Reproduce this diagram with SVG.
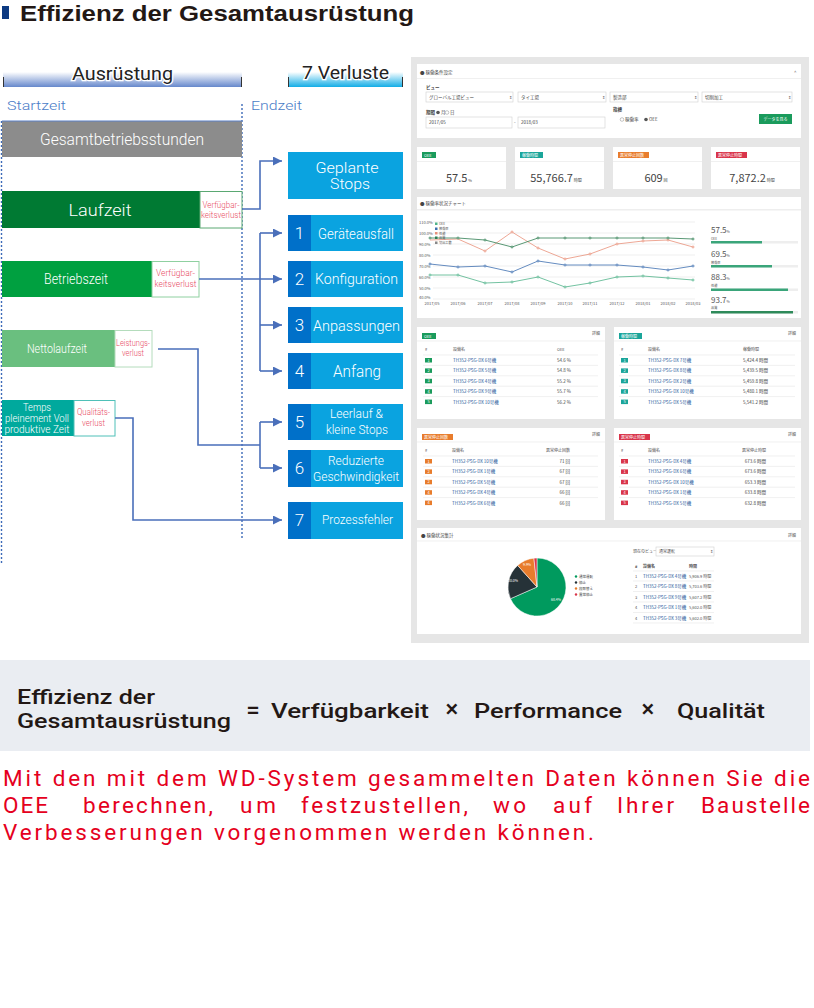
<svg xmlns="http://www.w3.org/2000/svg" width="814" height="1008" viewBox="0 0 814 1008">
<defs>
<linearGradient id="gA" x1="0" y1="0" x2="0" y2="1"><stop offset="0" stop-color="#ffffff"/><stop offset="1" stop-color="#6688cc"/></linearGradient>
<linearGradient id="gV" x1="0" y1="0" x2="0" y2="1"><stop offset="0" stop-color="#ffffff"/><stop offset="1" stop-color="#12ade6"/></linearGradient>
<marker id="ar" viewBox="0 0 9 9" refX="9" refY="4.5" markerWidth="9" markerHeight="9" markerUnits="userSpaceOnUse" orient="auto"><path d="M0,0 L9,4.5 L0,9 Z" fill="#4a6fba"/></marker>
<style>
.t{font-family:"Roboto","Liberation Sans",sans-serif;font-weight:300}
.red{fill:#e84a5f;font-size:8.5px;text-anchor:middle;font-family:"Roboto","Liberation Sans",sans-serif;font-weight:300}
.lb{fill:#0aa3e0}
.nb{fill:#0070c9}
.num{fill:#fff;font-size:17px;text-anchor:middle;font-family:"Roboto","Liberation Sans",sans-serif;font-weight:300}
.bt{fill:#fff;text-anchor:middle;font-family:"Roboto","Liberation Sans",sans-serif;font-weight:300}
.con{fill:none;stroke:#4a6fba;stroke-width:1.6}
.dot{stroke:#3e6bb8;stroke-width:1.4;stroke-dasharray:2,2}
.j{font-family:"Noto Sans CJK JP","Liberation Sans",sans-serif}
.p{fill:#fff}
.s{font-size:4.5px;fill:#444}
.sm{font-size:4px;fill:#555}
.nm{font-size:4.5px;fill:#2a5a9a}
.hl{stroke:#e6e6e6;stroke-width:0.6}
.sel{fill:#fff;stroke:#cfcfcf;stroke-width:0.6}
.val{font-size:11px;fill:#444;text-anchor:middle}
.tag{font-size:4px;fill:#fff}
.red2{fill:#e50020;font-size:22.5px;font-family:"Roboto","Liberation Sans",sans-serif;font-weight:400}
.fm{fill:#231815;font-family:"Roboto","Liberation Sans",sans-serif;font-weight:500}
</style>
</defs>
<rect width="814" height="1008" fill="#fff"/>

<g id="title">
<rect x="2" y="6" width="7" height="13" fill="#0d3a82"/>
<text x="20" y="21" font-size="22" font-weight="bold" fill="#231815" font-family="Liberation Sans, sans-serif" textLength="394" lengthAdjust="spacingAndGlyphs">Effizienz der Gesamtausrüstung</text>
</g>

<g id="header-ausruestung">
<rect x="3" y="72" width="239" height="15" fill="url(#gA)"/>
<line x1="3.5" y1="77" x2="3.5" y2="87" stroke="#333" stroke-width="1"/>
<line x1="241.5" y1="77" x2="241.5" y2="87" stroke="#333" stroke-width="1"/>
<text x="72" y="80" font-family="Roboto, Liberation Sans, sans-serif" font-size="18" fill="#222" stroke="#fff" stroke-width="2.5" paint-order="stroke" textLength="101" lengthAdjust="spacingAndGlyphs">Ausrüstung</text>
</g>
<g id="header-verluste">
<rect x="288" y="72" width="115" height="15" fill="url(#gV)"/>
<line x1="288.5" y1="77" x2="288.5" y2="87" stroke="#333" stroke-width="1"/>
<line x1="402.5" y1="77" x2="402.5" y2="87" stroke="#333" stroke-width="1"/>
<text x="302" y="79" font-family="Roboto, Liberation Sans, sans-serif" font-size="18" fill="#222" stroke="#fff" stroke-width="2.5" paint-order="stroke" textLength="87" lengthAdjust="spacingAndGlyphs">7 Verluste</text>
</g>

<g id="labels-zeit">
<text x="7" y="110" class="t" font-size="13" fill="#4a7cc7" textLength="59" lengthAdjust="spacingAndGlyphs">Startzeit</text>
<text x="251" y="110" class="t" font-size="13" fill="#4a7cc7" textLength="51" lengthAdjust="spacingAndGlyphs">Endzeit</text>
<line x1="1.5" y1="121" x2="1.5" y2="564" class="dot"/>
<line x1="242" y1="104" x2="242" y2="540" class="dot"/>
</g>

<g id="gesamt">
<rect x="2" y="121" width="240" height="36" fill="#8c8c8c"/>
<line x1="2" y1="121" x2="242" y2="121" stroke="#5b80c8" stroke-width="1"/>
<text x="122" y="145" class="bt" font-size="16" textLength="164" lengthAdjust="spacingAndGlyphs">Gesamtbetriebsstunden</text>
</g>

<g id="laufzeit">
<rect x="2" y="191" width="198" height="37" fill="#007a33"/>
<rect x="200" y="191.5" width="42" height="36.5" fill="#fff" stroke="#5aa872" stroke-width="1"/>
<text x="100" y="216" class="bt" font-size="17" textLength="63" lengthAdjust="spacingAndGlyphs">Laufzeit</text>
<text x="221" y="208" class="red" textLength="37" lengthAdjust="spacingAndGlyphs">Verfügbar-</text>
<text x="221" y="218" class="red" textLength="40" lengthAdjust="spacingAndGlyphs">keitsverlust</text>
</g>

<g id="betriebszeit">
<rect x="2" y="261" width="150" height="36" fill="#00a040"/>
<rect x="152" y="261.5" width="47" height="35.5" fill="#fff" stroke="#8fd0a0" stroke-width="1"/>
<text x="76" y="284" class="bt" font-size="14" textLength="64" lengthAdjust="spacingAndGlyphs">Betriebszeit</text>
<text x="175.5" y="276" class="red" textLength="39" lengthAdjust="spacingAndGlyphs">Verfügbar-</text>
<text x="175.5" y="287" class="red" textLength="42" lengthAdjust="spacingAndGlyphs">keitsverlust</text>
</g>

<g id="nettolaufzeit">
<rect x="2" y="330" width="113" height="37" fill="#6abf7f"/>
<rect x="115" y="330.5" width="37" height="36.5" fill="#fff" stroke="#b4dcbc" stroke-width="1"/>
<text x="57" y="353" class="bt" font-size="13" textLength="60" lengthAdjust="spacingAndGlyphs">Nettolaufzeit</text>
<text x="133" y="346" class="red" textLength="34" lengthAdjust="spacingAndGlyphs">Leistungs-</text>
<text x="133" y="356" class="red" textLength="22" lengthAdjust="spacingAndGlyphs">verlust</text>
</g>

<g id="vollproduktiv">
<rect x="2" y="400" width="72" height="36" fill="#00a99d"/>
<rect x="74" y="400.5" width="41" height="35.5" fill="#fff" stroke="#4fc0b8" stroke-width="1"/>
<text x="37" y="411" class="bt" font-size="10.5" textLength="28" lengthAdjust="spacingAndGlyphs">Temps</text>
<text x="37" y="422" class="bt" font-size="10.5" textLength="64" lengthAdjust="spacingAndGlyphs">pleinement Voll</text>
<text x="37" y="433" class="bt" font-size="10.5" textLength="65" lengthAdjust="spacingAndGlyphs">produktive Zeit</text>
<text x="93.5" y="415" class="red" textLength="33" lengthAdjust="spacingAndGlyphs">Qualitäts-</text>
<text x="93.5" y="426" class="red" textLength="23" lengthAdjust="spacingAndGlyphs">verlust</text>
</g>

<g id="geplante-stops">
<rect x="288" y="152" width="115" height="47" class="lb"/>
<text x="347" y="173" class="bt" font-size="15" textLength="63" lengthAdjust="spacingAndGlyphs">Geplante</text>
<text x="350" y="189" class="bt" font-size="15" textLength="40" lengthAdjust="spacingAndGlyphs">Stops</text>
</g>
<g id="v1"><rect x="288" y="215" width="115" height="36" class="lb"/><rect x="288" y="215" width="23" height="36" class="nb"/><text x="299.5" y="239" class="num">1</text><text x="356" y="239" class="bt" font-size="14.5" textLength="76" lengthAdjust="spacingAndGlyphs">Geräteausfall</text></g>
<g id="v2"><rect x="288" y="261" width="115" height="36" class="lb"/><rect x="288" y="261" width="23" height="36" class="nb"/><text x="299.5" y="285" class="num">2</text><text x="356.5" y="284" class="bt" font-size="14" textLength="83" lengthAdjust="spacingAndGlyphs">Konfiguration</text></g>
<g id="v3"><rect x="288" y="307" width="115" height="36" class="lb"/><rect x="288" y="307" width="23" height="36" class="nb"/><text x="299.5" y="331" class="num">3</text><text x="356.5" y="331" class="bt" font-size="15" textLength="87" lengthAdjust="spacingAndGlyphs">Anpassungen</text></g>
<g id="v4"><rect x="288" y="353" width="115" height="36" class="lb"/><rect x="288" y="353" width="23" height="36" class="nb"/><text x="299.5" y="377" class="num">4</text><text x="357" y="377" class="bt" font-size="16" textLength="48" lengthAdjust="spacingAndGlyphs">Anfang</text></g>
<g id="v5"><rect x="288" y="404" width="115" height="36" class="lb"/><rect x="288" y="404" width="23" height="36" class="nb"/><text x="299.5" y="428" class="num">5</text><text x="356.5" y="418" class="bt" font-size="12.5" textLength="53" lengthAdjust="spacingAndGlyphs">Leerlauf &amp;</text><text x="357" y="434" class="bt" font-size="12.5" textLength="62" lengthAdjust="spacingAndGlyphs">kleine Stops</text></g>
<g id="v6"><rect x="288" y="450" width="115" height="37" class="lb"/><rect x="288" y="450" width="23" height="37" class="nb"/><text x="299.5" y="474" class="num">6</text><text x="356" y="465" class="bt" font-size="12" textLength="56" lengthAdjust="spacingAndGlyphs">Reduzierte</text><text x="356" y="481" class="bt" font-size="12" textLength="86" lengthAdjust="spacingAndGlyphs">Geschwindigkeit</text></g>
<g id="v7"><rect x="288" y="502" width="115" height="37" class="lb"/><rect x="288" y="502" width="23" height="37" class="nb"/><text x="299.5" y="526" class="num">7</text><text x="357.5" y="524" class="bt" font-size="12" textLength="71" lengthAdjust="spacingAndGlyphs">Prozessfehler</text></g>

<g id="connectors">
<path class="con" d="M242,209 H260 V161 H282" marker-end="url(#ar)"/>
<path class="con" d="M199,279 H282" marker-end="url(#ar)"/>
<path class="con" d="M260,233 V371"/>
<path class="con" d="M260,233 H282" marker-end="url(#ar)"/>
<path class="con" d="M260,325 H282" marker-end="url(#ar)"/>
<path class="con" d="M260,371 H282" marker-end="url(#ar)"/>
<path class="con" d="M158,349 H198 V445 H260"/>
<path class="con" d="M260,422 V468"/>
<path class="con" d="M260,422 H282" marker-end="url(#ar)"/>
<path class="con" d="M260,468 H282" marker-end="url(#ar)"/>
<path class="con" d="M115,418 H133 V520 H282" marker-end="url(#ar)"/>
</g>

<g id="dashboard" class="j">
<rect x="411" y="57" width="398" height="586" fill="#e6e6e6"/>
<rect x="417" y="64" width="384" height="74" class="p"/>
<line x1="417" y1="78.5" x2="801" y2="78.5" class="hl"/>
<text x="420" y="73.5" class="s">● 稼働条件設定</text>
<text x="794" y="74" class="s">^</text>
<text x="426" y="89" class="s" font-weight="bold">ビュー</text>
<rect x="426" y="92" width="87" height="10" class="sel"/><text x="429" y="98.5" class="s">グローバル工場ビュー</text><text x="509" y="98.5" class="sm">⇕</text>
<rect x="518" y="92" width="88" height="10" class="sel"/><text x="521" y="98.5" class="s">タイ工場</text><text x="602" y="98.5" class="sm">⇕</text>
<rect x="610" y="92" width="88" height="10" class="sel"/><text x="613" y="98.5" class="s">製造部</text><text x="694" y="98.5" class="sm">⇕</text>
<rect x="702" y="92" width="90" height="10" class="sel"/><text x="705" y="98.5" class="s">切削加工</text><text x="788" y="98.5" class="sm">⇕</text>
<text x="426" y="114" class="s" font-weight="bold">期間</text>
<circle cx="438" cy="112.5" r="1.8" fill="#555"/><text x="441" y="114" class="s">月</text>
<circle cx="447" cy="112.5" r="1.8" fill="none" stroke="#888" stroke-width="0.5"/><text x="450" y="114" class="s">日</text>
<rect x="426" y="117" width="86" height="11" class="sel"/><text x="429" y="124" class="s">2017/05</text>
<text x="514" y="124" class="s">-</text>
<rect x="518" y="117" width="87" height="11" class="sel"/><text x="521" y="124" class="s">2018/03</text>
<text x="613" y="111" class="s" font-weight="bold">指標</text>
<circle cx="622" cy="119.5" r="1.8" fill="none" stroke="#888" stroke-width="0.5"/><text x="625" y="121" class="s">稼働率</text>
<circle cx="646" cy="119.5" r="1.8" fill="#555"/><text x="649" y="121" class="s">OEE</text>
<rect x="759" y="114" width="33" height="10" fill="#1a9b5c"/><text x="775.5" y="120.5" class="tag" text-anchor="middle" font-size="4.5">データを見る</text>

<rect x="417" y="147" width="89" height="42" class="p"/><line x1="417" y1="161.5" x2="506" y2="161.5" class="hl"/>
<rect x="422" y="152" width="14" height="6" fill="#1a9b5c"/><text x="424" y="156.5" class="tag">OEE</text>
<text x="459" y="182" class="val">57.5<tspan font-size="4"> %</tspan></text>
<rect x="515" y="147" width="89" height="42" class="p"/><line x1="515" y1="161.5" x2="604" y2="161.5" class="hl"/>
<rect x="520" y="152" width="23" height="6" fill="#1aa59a"/><text x="522" y="156.5" class="tag">稼働時間</text>
<text x="556" y="182" class="val">55,766.7<tspan font-size="4"> 時間</tspan></text>
<rect x="613" y="147" width="89" height="42" class="p"/><line x1="613" y1="161.5" x2="702" y2="161.5" class="hl"/>
<rect x="618" y="152" width="31" height="6" fill="#e87c2c"/><text x="620" y="156.5" class="tag">異常停止回数</text>
<text x="656" y="182" class="val">609<tspan font-size="4"> 回</tspan></text>
<rect x="711" y="147" width="89" height="42" class="p"/><line x1="711" y1="161.5" x2="800" y2="161.5" class="hl"/>
<rect x="716" y="152" width="31" height="6" fill="#d9344a"/><text x="718" y="156.5" class="tag">異常停止時間</text>
<text x="752" y="182" class="val">7,872.2<tspan font-size="4"> 時間</tspan></text>

<rect x="417" y="197" width="384" height="121" class="p"/>
<rect x="417" y="209" width="384" height="1.5" fill="#eeeeee"/>
<text x="420" y="205" class="s">● 稼働率状況チャート</text>
<g stroke="#dddddd" stroke-width="0.5">
<line x1="433" y1="222" x2="695" y2="222"/><line x1="433" y1="233" x2="695" y2="233"/><line x1="433" y1="244" x2="695" y2="244"/><line x1="433" y1="255" x2="695" y2="255"/><line x1="433" y1="266" x2="695" y2="266"/><line x1="433" y1="277" x2="695" y2="277"/><line x1="433" y1="288" x2="695" y2="288"/><line x1="433" y1="299" x2="695" y2="299"/>
</g>
<g class="sm" font-size="3.5">
<text x="419" y="223.5">110.0%</text><text x="419" y="234.5">100.0%</text><text x="419" y="245.5">90.0%</text><text x="419" y="256.5">80.0%</text><text x="419" y="267.5">70.0%</text><text x="419" y="278.5">60.0%</text><text x="419" y="289.5">50.0%</text><text x="419" y="299">40.0%</text>
</g>
<g class="sm" font-size="3.5" text-anchor="middle">
<text x="432" y="304.5">2017/05</text><text x="458" y="304.5">2017/06</text><text x="485" y="304.5">2017/07</text><text x="512" y="304.5">2017/08</text><text x="538" y="304.5">2017/09</text><text x="565" y="304.5">2017/10</text><text x="590" y="304.5">2017/11</text><text x="617" y="304.5">2017/12</text><text x="643" y="304.5">2018/01</text><text x="668" y="304.5">2018/02</text><text x="693" y="304.5">2018/03</text>
</g>
<g fill="#fff" stroke-width="0.8">
<polyline fill="none" stroke="#e8907a" points="430,240 458,239 485,251 512,232 538,248 565,259 590,254 617,244 643,241 668,240 693,247"/>
<polyline fill="none" stroke="#2e7d52" points="430,238 458,238 485,240 512,247 538,238 565,238 590,238 617,238 643,238 668,238 693,239"/>
<polyline fill="none" stroke="#3d6fb0" points="430,264 458,267 485,266 512,272 538,261 565,265 590,265 617,265 643,267 668,270 693,266"/>
<polyline fill="none" stroke="#4fb389" points="430,275 458,275 485,283 512,282 538,277 565,287 590,283 617,277 643,276 668,278 693,280"/>
<g stroke="#e8907a"><circle cx="485" cy="251" r="1"/><circle cx="512" cy="232" r="1"/><circle cx="538" cy="248" r="1"/><circle cx="565" cy="259" r="1"/><circle cx="590" cy="254" r="1"/><circle cx="617" cy="244" r="1"/><circle cx="643" cy="241" r="1"/><circle cx="668" cy="240" r="1"/><circle cx="693" cy="247" r="1"/></g>
<g stroke="#2e7d52"><circle cx="430" cy="238" r="1"/><circle cx="458" cy="238" r="1"/><circle cx="485" cy="240" r="1"/><circle cx="512" cy="247" r="1"/><circle cx="538" cy="238" r="1"/><circle cx="565" cy="238" r="1"/><circle cx="590" cy="238" r="1"/><circle cx="617" cy="238" r="1"/><circle cx="643" cy="238" r="1"/><circle cx="668" cy="238" r="1"/><circle cx="693" cy="239" r="1"/></g>
<g stroke="#3d6fb0"><circle cx="430" cy="264" r="1"/><circle cx="458" cy="267" r="1"/><circle cx="485" cy="266" r="1"/><circle cx="512" cy="272" r="1"/><circle cx="538" cy="261" r="1"/><circle cx="565" cy="265" r="1"/><circle cx="590" cy="265" r="1"/><circle cx="617" cy="265" r="1"/><circle cx="643" cy="267" r="1"/><circle cx="668" cy="270" r="1"/><circle cx="693" cy="266" r="1"/></g>
<g stroke="#4fb389"><circle cx="430" cy="275" r="1"/><circle cx="458" cy="275" r="1"/><circle cx="485" cy="283" r="1"/><circle cx="512" cy="282" r="1"/><circle cx="538" cy="277" r="1"/><circle cx="565" cy="287" r="1"/><circle cx="590" cy="283" r="1"/><circle cx="617" cy="277" r="1"/><circle cx="643" cy="276" r="1"/><circle cx="668" cy="278" r="1"/><circle cx="693" cy="280" r="1"/></g>
</g>
<g font-size="3.2" fill="#555">
<rect x="435" y="222.5" width="2.5" height="2.5" fill="#4fb389"/><text x="439" y="225">OEE</text>
<rect x="435" y="227.5" width="2.5" height="2.5" fill="#3d6fb0"/><text x="439" y="230">稼働率</text>
<rect x="435" y="232" width="2.5" height="2.5" fill="#e8907a"/><text x="439" y="234.5">性能</text>
<rect x="435" y="236.5" width="2.5" height="2.5" fill="#2e7d52"/><text x="439" y="239">品質</text>
<rect x="435" y="241.5" width="2.5" height="2.5" fill="#888"/><text x="439" y="244">切出工数</text>
</g>
<g fill="#555">
<text x="711" y="233" font-size="8">57.5<tspan font-size="3.5">%</tspan></text><text x="711" y="239.5" font-size="3.2">OEE</text>
<rect x="711" y="241" width="87" height="2.5" fill="#eeeeee"/><rect x="711" y="241" width="51" height="2.5" fill="#3aa57a"/>
<text x="711" y="257" font-size="8">69.5<tspan font-size="3.5">%</tspan></text><text x="711" y="263.5" font-size="3.2">稼働率</text>
<rect x="711" y="265" width="87" height="2.5" fill="#eeeeee"/><rect x="711" y="265" width="61" height="2.5" fill="#3aa57a"/>
<text x="711" y="280" font-size="8">88.3<tspan font-size="3.5">%</tspan></text><text x="711" y="286.5" font-size="3.2">性能</text>
<rect x="711" y="288.5" width="87" height="2.5" fill="#eeeeee"/><rect x="711" y="288.5" width="77" height="2.5" fill="#3aa57a"/>
<text x="711" y="302.5" font-size="8">93.7<tspan font-size="3.5">%</tspan></text><text x="711" y="309" font-size="3.2">品質</text>
<rect x="711" y="311" width="87" height="2.5" fill="#eeeeee"/><rect x="711" y="311" width="82" height="2.5" fill="#2e8a5a"/>
</g>

<g>
<rect x="417" y="327" width="188" height="92" class="p"/>
<line x1="417" y1="341" x2="605" y2="341" class="hl"/>
<rect x="422" y="333" width="14" height="6" fill="#1a9b5c"/><text x="424" y="337.5" class="tag">OEE</text>
<text x="600" y="335" class="sm" text-anchor="end">詳細</text>
<text x="425" y="351" class="sm">#</text><text x="453" y="351" class="sm">設備名</text><text x="557" y="351" class="sm">OEE</text>
<g class="hl"><line x1="423" y1="355" x2="598" y2="355"/><line x1="423" y1="365.4" x2="598" y2="365.4"/><line x1="423" y1="375.8" x2="598" y2="375.8"/><line x1="423" y1="386.2" x2="598" y2="386.2"/><line x1="423" y1="396.6" x2="598" y2="396.6"/></g>
<g fill="#1a9b5c"><rect x="425" y="358" width="7" height="4.5"/><rect x="425" y="368.4" width="7" height="4.5"/><rect x="425" y="378.8" width="7" height="4.5"/><rect x="425" y="389.2" width="7" height="4.5"/><rect x="425" y="399.6" width="7" height="4.5"/></g>
<g class="tag" font-size="3.5" text-anchor="middle"><text x="428.5" y="361.5">1</text><text x="428.5" y="371.9">2</text><text x="428.5" y="382.3">3</text><text x="428.5" y="392.7">4</text><text x="428.5" y="403.1">5</text></g>
<g class="nm"><text x="453" y="362">TH352-PSG-DX 6号機</text><text x="453" y="372.4">TH352-PSG-DX 5号機</text><text x="453" y="382.8">TH352-PSG-DX 4号機</text><text x="453" y="393.2">TH352-PSG-DX 9号機</text><text x="453" y="403.6">TH352-PSG-DX 10号機</text></g>
<g class="s"><text x="557" y="362">54.6 %</text><text x="557" y="372.4">54.8 %</text><text x="557" y="382.8">55.2 %</text><text x="557" y="393.2">55.7 %</text><text x="557" y="403.6">56.2 %</text></g>
</g>
<g>
<rect x="614" y="327" width="187" height="92" class="p"/>
<line x1="614" y1="341" x2="801" y2="341" class="hl"/>
<rect x="619" y="333" width="23" height="6" fill="#1aa59a"/><text x="621" y="337.5" class="tag">稼働時間</text>
<text x="796" y="335" class="sm" text-anchor="end">詳細</text>
<text x="621" y="351" class="sm">#</text><text x="648" y="351" class="sm">設備名</text><text x="743" y="351" class="sm">稼働時間</text>
<g class="hl"><line x1="619" y1="355" x2="795" y2="355"/><line x1="619" y1="365.4" x2="795" y2="365.4"/><line x1="619" y1="375.8" x2="795" y2="375.8"/><line x1="619" y1="386.2" x2="795" y2="386.2"/><line x1="619" y1="396.6" x2="795" y2="396.6"/></g>
<g fill="#1aa59a"><rect x="621" y="358" width="7" height="4.5"/><rect x="621" y="368.4" width="7" height="4.5"/><rect x="621" y="378.8" width="7" height="4.5"/><rect x="621" y="389.2" width="7" height="4.5"/><rect x="621" y="399.6" width="7" height="4.5"/></g>
<g class="tag" font-size="3.5" text-anchor="middle"><text x="624.5" y="361.5">1</text><text x="624.5" y="371.9">2</text><text x="624.5" y="382.3">3</text><text x="624.5" y="392.7">4</text><text x="624.5" y="403.1">5</text></g>
<g class="nm"><text x="648" y="362">TH352-PSG-DX 7号機</text><text x="648" y="372.4">TH352-PSG-DX 8号機</text><text x="648" y="382.8">TH352-PSG-DX 2号機</text><text x="648" y="393.2">TH352-PSG-DX 10号機</text><text x="648" y="403.6">TH352-PSG-DX 5号機</text></g>
<g class="s"><text x="743" y="362">5,424.4 時間</text><text x="743" y="372.4">5,439.5 時間</text><text x="743" y="382.8">5,459.8 時間</text><text x="743" y="393.2">5,480.1 時間</text><text x="743" y="403.6">5,541.2 時間</text></g>
</g>
<g>
<rect x="417" y="428" width="188" height="92" class="p"/>
<line x1="417" y1="442" x2="605" y2="442" class="hl"/>
<rect x="422" y="434" width="31" height="6" fill="#e87c2c"/><text x="424" y="438.5" class="tag">異常停止回数</text>
<text x="600" y="436" class="sm" text-anchor="end">詳細</text>
<text x="425" y="452" class="sm">#</text><text x="452" y="452" class="sm">設備名</text><text x="570" y="452" class="sm" text-anchor="end">異常停止回数</text>
<g class="hl"><line x1="423" y1="456" x2="598" y2="456"/><line x1="423" y1="466.4" x2="598" y2="466.4"/><line x1="423" y1="476.8" x2="598" y2="476.8"/><line x1="423" y1="487.2" x2="598" y2="487.2"/><line x1="423" y1="497.6" x2="598" y2="497.6"/></g>
<g fill="#e87c2c"><rect x="425" y="459" width="7" height="4.5"/><rect x="425" y="469.4" width="7" height="4.5"/><rect x="425" y="479.8" width="7" height="4.5"/><rect x="425" y="490.2" width="7" height="4.5"/><rect x="425" y="500.6" width="7" height="4.5"/></g>
<g class="tag" font-size="3.5" text-anchor="middle"><text x="428.5" y="462.5">1</text><text x="428.5" y="472.9">2</text><text x="428.5" y="483.3">2</text><text x="428.5" y="493.7">4</text><text x="428.5" y="504.1">4</text></g>
<g class="nm"><text x="452" y="463">TH352-PSG-DX 10号機</text><text x="452" y="473.4">TH352-PSG-DX 1号機</text><text x="452" y="483.8">TH352-PSG-DX 5号機</text><text x="452" y="494.2">TH352-PSG-DX 4号機</text><text x="452" y="504.6">TH352-PSG-DX 6号機</text></g>
<g class="s" text-anchor="end"><text x="570" y="463">71 回</text><text x="570" y="473.4">67 回</text><text x="570" y="483.8">67 回</text><text x="570" y="494.2">66 回</text><text x="570" y="504.6">66 回</text></g>
</g>
<g>
<rect x="614" y="428" width="187" height="92" class="p"/>
<line x1="614" y1="442" x2="801" y2="442" class="hl"/>
<rect x="619" y="434" width="31" height="6" fill="#d9344a"/><text x="621" y="438.5" class="tag">異常停止時間</text>
<text x="796" y="436" class="sm" text-anchor="end">詳細</text>
<text x="621" y="452" class="sm">#</text><text x="648" y="452" class="sm">設備名</text><text x="766" y="452" class="sm" text-anchor="end">異常停止時間</text>
<g class="hl"><line x1="619" y1="456" x2="795" y2="456"/><line x1="619" y1="466.4" x2="795" y2="466.4"/><line x1="619" y1="476.8" x2="795" y2="476.8"/><line x1="619" y1="487.2" x2="795" y2="487.2"/><line x1="619" y1="497.6" x2="795" y2="497.6"/></g>
<g fill="#d9344a"><rect x="621" y="459" width="7" height="4.5"/><rect x="621" y="469.4" width="7" height="4.5"/><rect x="621" y="479.8" width="7" height="4.5"/><rect x="621" y="490.2" width="7" height="4.5"/><rect x="621" y="500.6" width="7" height="4.5"/></g>
<g class="tag" font-size="3.5" text-anchor="middle"><text x="624.5" y="462.5">1</text><text x="624.5" y="472.9">1</text><text x="624.5" y="483.3">3</text><text x="624.5" y="493.7">4</text><text x="624.5" y="504.1">5</text></g>
<g class="nm"><text x="648" y="463">TH352-PSG-DX 4号機</text><text x="648" y="473.4">TH352-PSG-DX 6号機</text><text x="648" y="483.8">TH352-PSG-DX 10号機</text><text x="648" y="494.2">TH352-PSG-DX 1号機</text><text x="648" y="504.6">TH352-PSG-DX 5号機</text></g>
<g class="s" text-anchor="end"><text x="766" y="463">673.6 時間</text><text x="766" y="473.4">673.6 時間</text><text x="766" y="483.8">653.3 時間</text><text x="766" y="494.2">633.8 時間</text><text x="766" y="504.6">632.8 時間</text></g>
</g>
<g>
<rect x="417" y="528" width="384" height="106" class="p"/>
<line x1="417" y1="541" x2="801" y2="541" class="hl"/>
<text x="421" y="536.5" class="s">● 稼働状況集計</text>
<text x="796" y="536.5" class="sm" text-anchor="end">詳細</text>
<g stroke="#fff" stroke-width="0.5">
<path d="M537,587 L537,558 A29,29 0 1,1 510.46,598.7 Z" fill="#009a5e"/>
<path d="M537,587 L510.46,598.7 A29,29 0 0,1 517.67,565.38 Z" fill="#263238"/>
<path d="M537,587 L517.67,565.38 A29,29 0 0,1 533.92,558.17 Z" fill="#e87c2c"/>
<path d="M537,587 L533.92,558.17 A29,29 0 0,1 537,558 Z" fill="#d9344a"/>
</g>
<g font-size="3.5" fill="#fff"><text x="551" y="601">68.4%</text><text x="508" y="582">20.0%</text><text x="523" y="566">9.9%</text></g>
<g font-size="3.5" fill="#444">
<circle cx="576" cy="576.5" r="1.2" fill="#009a5e"/><text x="579" y="578">通常運転</text>
<circle cx="576" cy="582.5" r="1.2" fill="#263238"/><text x="579" y="584">停止</text>
<circle cx="576" cy="588.5" r="1.2" fill="#e87c2c"/><text x="579" y="590">段取替え</text>
<circle cx="576" cy="594.5" r="1.2" fill="#d9344a"/><text x="579" y="596">異常停止</text>
</g>
<text x="633" y="553" class="sm">現在のビュー:</text>
<rect x="656" y="547" width="58" height="9" class="sel"/><text x="659" y="553" class="sm">通常運転</text><text x="710" y="553" class="sm">⇕</text>
<text x="635" y="567.5" class="sm" font-weight="bold">#</text><text x="643" y="567.5" class="sm" font-weight="bold">設備名</text><text x="689" y="567.5" class="sm" font-weight="bold">時間</text>
<g class="hl"><line x1="633" y1="571" x2="714" y2="571"/><line x1="633" y1="581" x2="714" y2="581"/><line x1="633" y1="591.5" x2="714" y2="591.5"/><line x1="633" y1="602" x2="714" y2="602"/><line x1="633" y1="612.5" x2="714" y2="612.5"/><line x1="633" y1="623" x2="714" y2="623"/></g>
<g class="sm"><text x="635" y="577.5">1</text><text x="635" y="588">2</text><text x="635" y="598.5">3</text><text x="635" y="609">4</text><text x="635" y="619.5">4</text></g>
<g class="nm" font-size="3.8"><text x="643" y="577.5">TH352-PSG-DX 4号機</text><text x="643" y="588">TH352-PSG-DX 8号機</text><text x="643" y="598.5">TH352-PSG-DX 9号機</text><text x="643" y="609">TH352-PSG-DX 1号機</text><text x="643" y="619.5">TH352-PSG-DX 3号機</text></g>
<g class="sm"><text x="689" y="577.5">5,906.9 時間</text><text x="689" y="588">5,703.6 時間</text><text x="689" y="598.5">5,607.2 時間</text><text x="689" y="609">5,602.0 時間</text><text x="689" y="619.5">5,602.0 時間</text></g>
</g>
</g>

<g id="formula">
<rect x="0" y="660" width="810" height="91" fill="#eaedf2"/>
<text x="17" y="704" class="fm" font-size="20" textLength="138" lengthAdjust="spacingAndGlyphs">Effizienz der</text>
<text x="17" y="728" class="fm" font-size="20" textLength="214" lengthAdjust="spacingAndGlyphs">Gesamtausrüstung</text>
<text x="253" y="718" class="fm" font-size="24" text-anchor="middle" font-weight="bold">=</text>
<text x="271" y="718" class="fm" font-size="21" textLength="158" lengthAdjust="spacingAndGlyphs">Verfügbarkeit</text>
<text x="452" y="717" class="fm" font-size="24" text-anchor="middle" font-weight="bold">×</text>
<text x="474" y="718" class="fm" font-size="21" textLength="148" lengthAdjust="spacingAndGlyphs">Performance</text>
<text x="648" y="717" class="fm" font-size="24" text-anchor="middle" font-weight="bold">×</text>
<text x="677" y="718" class="fm" font-size="21" textLength="88" lengthAdjust="spacingAndGlyphs">Qualität</text>
</g>

<g id="description">
<text x="3" y="786" class="red2" textLength="807" lengthAdjust="spacing">Mit den mit dem WD-System gesammelten Daten können Sie die</text>
<text x="3" y="813" class="red2" textLength="45" lengthAdjust="spacing">OEE</text>
<text x="83" y="813" class="red2" textLength="130" lengthAdjust="spacing">berechnen,</text>
<text x="240" y="813" class="red2" textLength="36" lengthAdjust="spacing">um</text>
<text x="301" y="813" class="red2" textLength="167" lengthAdjust="spacing">festzustellen,</text>
<text x="493" y="813" class="red2" textLength="33" lengthAdjust="spacing">wo</text>
<text x="553" y="813" class="red2" textLength="39" lengthAdjust="spacing">auf</text>
<text x="617" y="813" class="red2" textLength="57" lengthAdjust="spacing">Ihrer</text>
<text x="701" y="813" class="red2" textLength="109" lengthAdjust="spacing">Baustelle</text>
<text x="3" y="840" class="red2" textLength="591" lengthAdjust="spacing">Verbesserungen vorgenommen werden können.</text>
</g>
</svg>
